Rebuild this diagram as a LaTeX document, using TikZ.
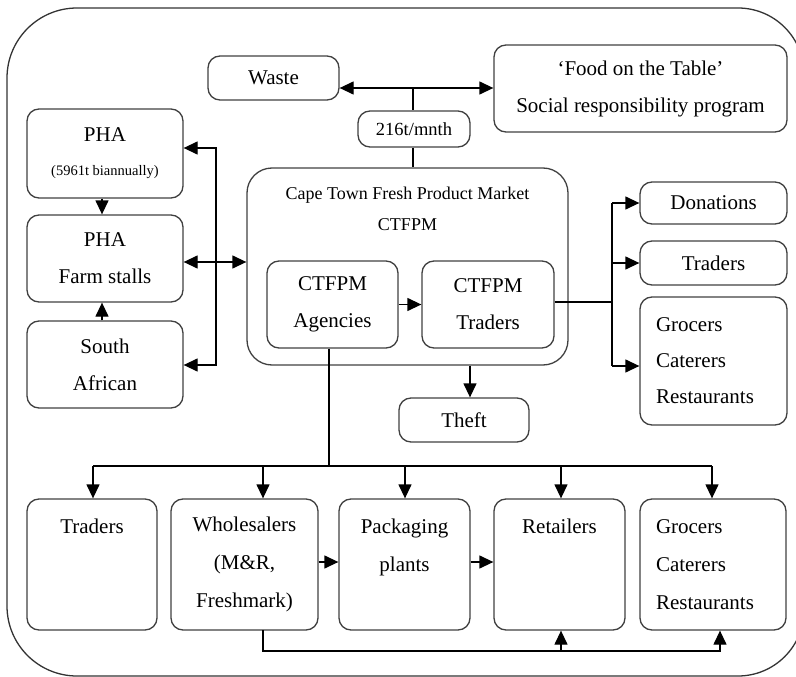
\documentclass[tikz,border=0pt]{standalone}
\usepackage{fontspec}
\setmainfont{Liberation Serif}
\usetikzlibrary{arrows.meta,calc}
\begin{document}
\begin{tikzpicture}[x=1pt,y=-1pt,
  bx/.style={draw=black!75, line width=1.3pt, rounded corners=12pt, inner sep=0pt,
    align=center, font=\fontsize{21}{37}\selectfont},
  ln/.style={line width=1.3pt, draw=black},
  arr/.style={ln, -{Triangle[length=14pt,width=13pt]}},
  dblarr/.style={ln, {Triangle[length=14pt,width=13pt]}-{Triangle[length=14pt,width=13pt]}}]
\useasboundingbox (0,0) rectangle (796,677);
\clip (0,0) rectangle (796,677);
\draw[line width=1.3pt, draw=black!80]
  (7,400) [rounded corners=70pt] -- (7,8) -- (400,8)
  [rounded corners=66pt] -- (804,8) -- (804,676) -- (400,676)
  [rounded corners=70pt] -- (7,676) -- cycle;

% top row
\node[bx, minimum width=131pt, minimum height=44pt] (waste) at (273.5,78) {Waste};
\node[bx, minimum width=293pt, minimum height=87pt] (food) at (640.5,88.5) {‘Food on the Table’\\Social responsibility program};
\node[bx, minimum width=112pt, minimum height=36pt, font=\fontsize{18.5}{20}\selectfont] (t216) at (414,129) {216t/mnth};

% left column
\node[bx, minimum width=156pt, minimum height=89pt] (pha1) at (105,153.5) {PHA\\[-3pt]{\fontsize{14.5}{16}\selectfont (5961t biannually)}};
\node[bx, minimum width=156pt, minimum height=87pt] (pha2) at (105,258.5) {PHA\\Farm stalls};
\node[bx, minimum width=156pt, minimum height=87pt] (sa) at (105,364.5) {South\\African};

% CTFPM
\node[bx, rounded corners=25pt, minimum width=321pt, minimum height=197pt] (ctfpm) at (407.5,266.5) {};
\node[font=\fontsize{18}{31}\selectfont, align=center] (ctitle) at (407.5,208.5) {Cape Town Fresh Product Market\\CTFPM};
\node[bx, minimum width=131pt, minimum height=87pt] (ag) at (332.5,304.5) {CTFPM\\Agencies};
\node[bx, minimum width=132pt, minimum height=87pt] (tr) at (488,304.5) {CTFPM\\Traders};
\node[bx, minimum width=130pt, minimum height=44pt] (theft) at (464,420) {Theft};

% right column
\node[bx, minimum width=147pt, minimum height=42pt] (don) at (713.5,203) {Donations};
\node[bx, minimum width=147pt, minimum height=44pt] (trR) at (713.5,263) {Traders};
\node[bx, minimum width=147pt, minimum height=128pt, align=left, text width=115pt, inner xsep=16pt, font=\fontsize{21}{36}\selectfont] (grR) at (713.5,361) {Grocers\\Caterers\\Restaurants};

% bottom row
\node[bx, minimum width=130pt, minimum height=131pt, font=\fontsize{21}{38}\selectfont] (trB) at (92,564.5) {Traders\\~\\~};
\node[bx, minimum width=147pt, minimum height=131pt, font=\fontsize{21}{38}\selectfont] (wh) at (244.5,564.5) {Wholesalers\\(M\&R,\\Freshmark)};
\node[bx, minimum width=131pt, minimum height=131pt, font=\fontsize{21}{38}\selectfont] (pk) at (404.5,564.5) {Packaging\\plants\\~};
\node[bx, minimum width=131pt, minimum height=131pt, font=\fontsize{21}{38}\selectfont] (re) at (559.5,564.5) {Retailers\\~\\~};
\node[bx, minimum width=146pt, minimum height=131pt, align=left, text width=114pt, inner xsep=16pt, font=\fontsize{21}{38}\selectfont] (grB) at (713,564.5) {Grocers\\Caterers\\Restaurants};

% connector coordinates
\coordinate (hub) at (413,88);
\coordinate (L1) at (216,148);
\coordinate (L2) at (216,365);
\coordinate (R0) at (612,302);
\coordinate (R1) at (612,203);
\coordinate (R2) at (612,366);
\coordinate (B0) at (329,466);
\coordinate (BL) at (93,466);
\coordinate (BR) at (712,466);
\coordinate (W0) at (263,630);
\coordinate (W1) at (263,651);
\coordinate (W2) at (720,651);
\coordinate (W3) at (561,651);

% top connectors
\draw[dblarr] (waste.east |- hub) -- (food.west |- hub);
\draw[ln] (hub) -- (t216.north -| hub);
\draw[ln] (t216.south -| hub) -- (ctfpm.north -| hub);

% left connectors
\draw[arr] (pha1.south -| 102,0) -- (pha2.north -| 102,0);
\draw[arr] (sa.north -| 102,0) -- (pha2.south -| 102,0);
\draw[dblarr] (pha1.east |- L1) -- (L1) -- (L2) -- (sa.east |- L2);
\draw[dblarr] (pha2.east |- 0,262) -- (ctfpm.west |- 0,262);

% CTFPM connectors
\draw[arr] (ag.east) -- (tr.west);
\draw[arr] (ctfpm.south -| 470,0) -- (theft.north -| 470,0);
\draw[ln] (tr.east |- R0) -- (R0);
\draw[ln] (R1) -- (R2);
\draw[arr] (R1) -- (don.west |- R1);
\draw[arr] (R1 |- trR.west) -- (trR.west);
\draw[arr] (R2) -- (grR.west |- R2);

% bottom distribution
\draw[ln] (ag.south -| B0) -- (B0);
\draw[ln] (BL) -- (BR);
\draw[arr] (BL) -- (trB.north -| BL);
\draw[arr] (263,466) -- (wh.north -| 263,0);
\draw[arr] (405,466) -- (pk.north -| 405,0);
\draw[arr] (561,466) -- (re.north -| 561,0);
\draw[arr] (BR) -- (grB.north -| BR);
\draw[arr] (wh.east |- 0,562) -- (pk.west |- 0,562);
\draw[arr] (pk.east |- 0,562) -- (re.west |- 0,562);
\draw[arr] (W0) -- (W1) -- (W2) -- (grB.south -| W2);
\draw[arr] (W3) -- (re.south -| W3);
\end{tikzpicture}
\end{document}
